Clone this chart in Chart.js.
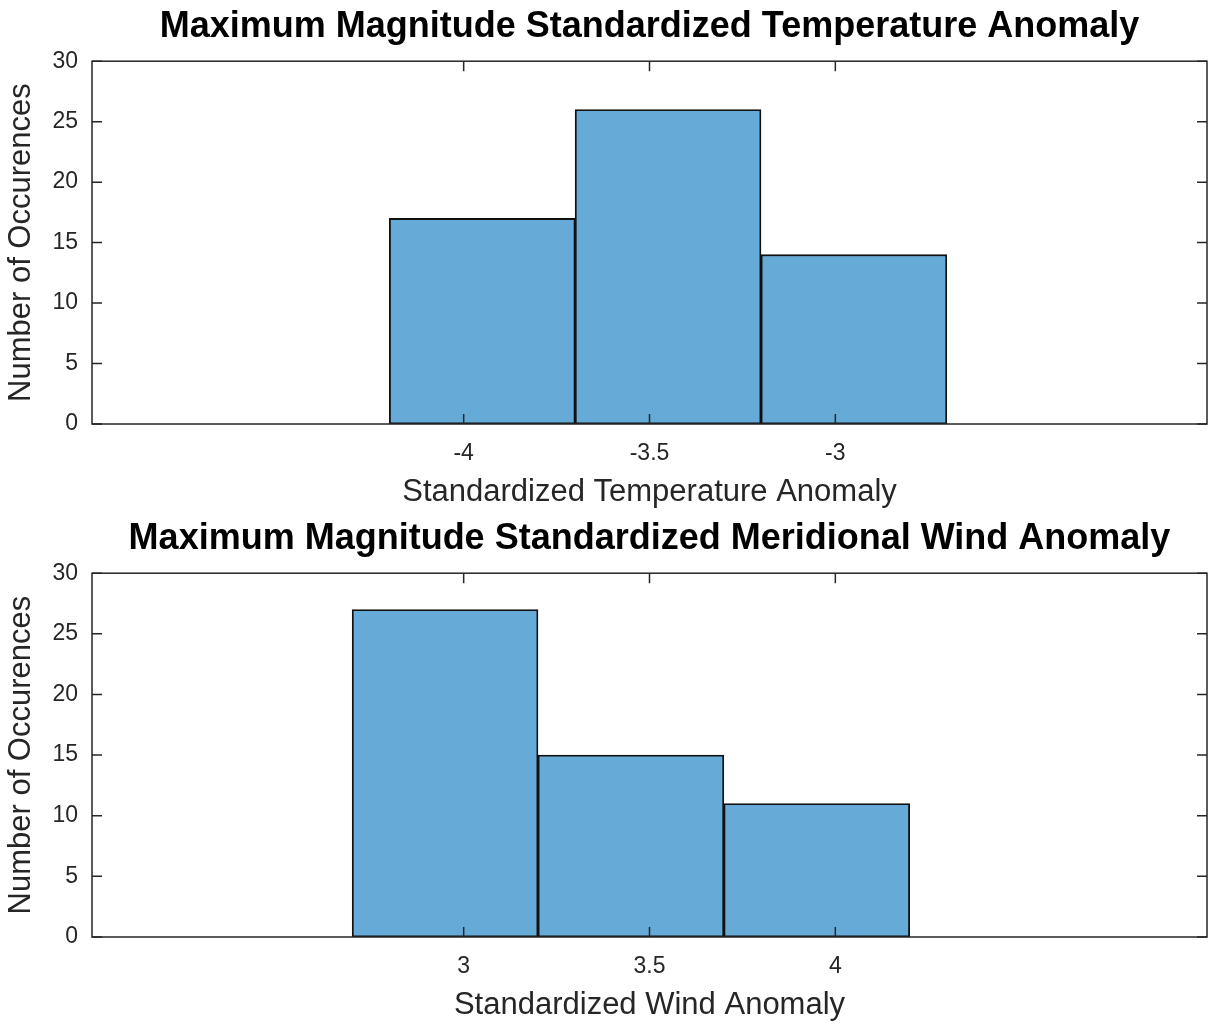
<!DOCTYPE html>
<html>
<head>
<meta charset="utf-8">
<script src="https://cdn.jsdelivr.net/npm/chart.js@4.4.0/dist/chart.umd.min.js"></script>
<style>
  html, body { margin: 0; padding: 0; background: #fff; }
  .panel { position: absolute; left: 0; width: 1212px; }
  #top { top: 0; height: 512px; }
  #bottom { top: 512px; height: 513px; }
</style>
</head>
<body>
<div class="panel" id="top"><canvas id="tempChart"></canvas></div>
<div class="panel" id="bottom"><canvas id="windChart"></canvas></div>
<script>
// histogram data
const tempBinEdges = [-4.2, -3.7, -3.2, -2.7];
const tempCounts = [17, 26, 14];
const tempTicks = [-4, -3.5, -3];
const tempRange = [-5, -2];

const windBinEdges = [2.7, 3.2, 3.7, 4.2];
const windCounts = [27, 15, 11];
const windTicks = [3, 3.5, 4];
const windRange = [2, 5];

const countMax = 30;
const countStep = 5;

const FONT = '"Liberation Sans", Arial, Helvetica, sans-serif';
const AXIS_COLOR = '#262626';

// box around the plot area plus inward tick marks, MATLAB style
const boxTicks = {
    id: 'boxTicks',
    afterDatasetsDraw(chart) {
        const { ctx, chartArea: a, scales: { x, y } } = chart;
        const len = 10;
        ctx.save();
        ctx.strokeStyle = AXIS_COLOR;
        ctx.lineWidth = 1.5;
        ctx.beginPath();
        x.ticks.forEach(t => {
            const px = x.getPixelForValue(t.value);
            ctx.moveTo(px, a.bottom); ctx.lineTo(px, a.bottom - len);
            ctx.moveTo(px, a.top); ctx.lineTo(px, a.top + len);
        });
        y.ticks.forEach(t => {
            const py = y.getPixelForValue(t.value);
            ctx.moveTo(a.left, py); ctx.lineTo(a.left + len, py);
            ctx.moveTo(a.right, py); ctx.lineTo(a.right - len, py);
        });
        ctx.stroke();
        ctx.strokeRect(a.left, a.top, a.right - a.left, a.bottom - a.top);
        ctx.restore();
    }
};

function makeHist(canvasId, title, xLabel, edges, counts, ticks, range) {
    const points = counts.map((c, i) => ({ x: (edges[i] + edges[i + 1]) / 2, y: c }));
    const ctx = document.getElementById(canvasId).getContext('2d');
    return new Chart(ctx, {
        type: 'bar',
        data: {
            datasets: [{
                data: points,
                backgroundColor: 'rgb(102,170,215)',
                borderColor: '#111',
                borderWidth: 1.8,
                borderSkipped: false,
                barPercentage: 1,
                categoryPercentage: 1,
            }],
        },
        options: {
            responsive: true,
            maintainAspectRatio: false,
            animation: false,
            layout: { padding: { left: 0, right: 5, top: 0, bottom: 0 } },
            plugins: {
                legend: { display: false },
                tooltip: { enabled: false },
                title: {
                    display: true,
                    fullSize: false,
                    text: title,
                    color: '#000',
                    font: { family: FONT, size: 36, weight: 'bold' },
                    padding: { top: 5, bottom: 13 },
                },
            },
            scales: {
                x: {
                    type: 'linear',
                    min: range[0],
                    max: range[1],
                    offset: false,
                    grid: { display: false, drawTicks: false, offset: false },
                    border: { display: false },
                    afterBuildTicks: scale => { scale.ticks = ticks.map(v => ({ value: v })); },
                    afterFit: scale => { scale.height = 88; },
                    ticks: {
                        color: AXIS_COLOR,
                        font: { family: FONT, size: 23 },
                        padding: 16,
                        maxRotation: 0,
                        callback: v => String(v),
                    },
                    title: {
                        display: true,
                        text: xLabel,
                        color: AXIS_COLOR,
                        font: { family: FONT, size: 31 },
                        padding: { top: 0, bottom: 1 },
                    },
                },
                y: {
                    min: 0,
                    max: countMax,
                    grid: { display: false, drawTicks: false },
                    border: { display: false },
                    afterFit: scale => { scale.width = 92; },
                    ticks: {
                        stepSize: countStep,
                        color: AXIS_COLOR,
                        font: { family: FONT, size: 23 },
                        padding: 14,
                    },
                    title: {
                        display: true,
                        text: 'Number of Occurences',
                        color: AXIS_COLOR,
                        font: { family: FONT, size: 31 },
                        padding: { top: 3, bottom: 0 },
                    },
                },
            },
        },
        plugins: [boxTicks],
    });
}

makeHist('tempChart', 'Maximum Magnitude Standardized Temperature Anomaly',
    'Standardized Temperature Anomaly', tempBinEdges, tempCounts, tempTicks, tempRange);
makeHist('windChart', 'Maximum Magnitude Standardized Meridional Wind Anomaly',
    'Standardized Wind Anomaly', windBinEdges, windCounts, windTicks, windRange);
</script>
</body>
</html>
